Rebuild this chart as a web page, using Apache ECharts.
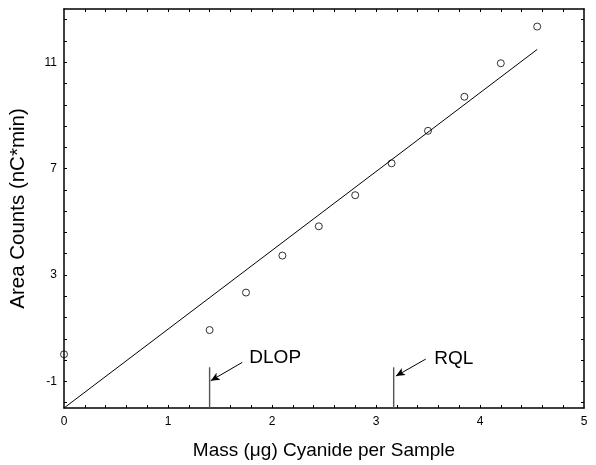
<!DOCTYPE html>
<html>
<head>
<meta charset="utf-8">
<script src="https://cdn.jsdelivr.net/npm/echarts@6/dist/echarts.min.js"></script>
<style>
html,body{margin:0;padding:0;background:#fff;}
#chart{width:596px;height:465px;}
</style>
</head>
<body>
<div id="chart"></div>
<script>
// ---- data ----
var massX = [0, 1.4, 1.75, 2.1, 2.45, 2.8, 3.15, 3.5, 3.85, 4.2, 4.55];
var areaY = [0.02, 0.93, 2.34, 3.73, 4.83, 6.0, 7.2, 8.42, 9.7, 10.96, 12.34];
var fitX = [0, 4.55];
var fitY = [-2, 11.48];
var xTickLabels = [0, 1, 2, 3, 4, 5];
var yTickLabels = [-1, 3, 7, 11];
var markerNames = ['DLOP', 'RQL'];
var markerX = [1.4, 3.17];
var markerTop = -0.47;

var FONT = "'Liberation Sans', Arial, sans-serif";
var xMin = 0, xMax = 5, yMin = -2, yMax = 13;

// minor tick positions (5 subdivisions between labelled ticks)
var xTicks = [];
for (var i = 1; i < 25; i++) xTicks.push(+(xMin + i * 0.2).toFixed(3));
var yTicks = [];
for (var v = yTickLabels[0] - 0.8; v <= yMax + 1e-9; v += 0.8) {
  if (v > yMin + 1e-9 && v < yMax - 1e-9) yTicks.push(+v.toFixed(3));
}

var pts = massX.map(function (x, i) { return [x, areaY[i]]; });
var fit = fitX.map(function (x, i) { return [x, fitY[i]]; });

function axisBase(extra) {
  var o = {
    type: 'value',
    axisLine: { show: true, onZero: false, lineStyle: { color: '#000', width: 1.5 } },
    axisTick: { show: true, inside: true, length: 3, lineStyle: { color: '#000', width: 1 } },
    splitLine: { show: false },
    axisLabel: { show: false }
  };
  for (var k in extra) o[k] = extra[k];
  return o;
}

var chart = echarts.init(document.getElementById('chart'), null, { renderer: 'canvas' });

var annLabelPos = [[1.782, -0.13], [3.56, -0.15]];
var arrows = [
  [[1.714, -0.285], [1.411, -0.975]],
  [[3.478, -0.161], [3.192, -0.799]]
];

var option = {
  animation: false,
  backgroundColor: '#fff',
  grid: { left: 64, top: 9, right: 12, bottom: 57, containLabel: false, outerBoundsMode: 'none' },
  xAxis: [
    axisBase({
      position: 'bottom', min: xMin, max: xMax,
      axisTick: { show: true, inside: true, length: 3, customValues: xTicks, lineStyle: { color: '#000', width: 1 } },
      axisLabel: { show: true, customValues: xTickLabels, margin: 8, color: '#000', fontSize: 12, fontFamily: FONT },
      name: 'Mass (\u03BCg) Cyanide per Sample', nameLocation: 'middle', nameGap: 33,
      nameTextStyle: { color: '#000', fontSize: 19, fontFamily: FONT }
    }),
    axisBase({
      position: 'top', min: xMin, max: xMax,
      axisTick: { show: true, inside: true, length: 3, customValues: xTicks, lineStyle: { color: '#000', width: 1 } }
    })
  ],
  yAxis: [
    axisBase({
      position: 'left', min: yMin, max: yMax,
      axisTick: { show: true, inside: true, length: 3, customValues: yTicks, lineStyle: { color: '#000', width: 1 } },
      axisLabel: { show: true, customValues: yTickLabels, margin: 7, color: '#000', fontSize: 12, fontFamily: FONT },
      name: 'Area Counts (nC*min)', nameLocation: 'middle', nameGap: 35,
      nameTextStyle: { color: '#000', fontSize: 20.5, fontFamily: FONT }
    }),
    axisBase({
      position: 'right', min: yMin, max: yMax,
      axisTick: { show: true, inside: true, length: 3, customValues: yTicks, lineStyle: { color: '#000', width: 1 } }
    })
  ],
  series: [
    {
      type: 'line', data: fit, symbol: 'none', silent: true,
      lineStyle: { color: '#000', width: 1 }, z: 2
    },
    {
      type: 'scatter', data: pts, symbol: 'circle', symbolSize: 7,
      itemStyle: { color: 'rgba(255,255,255,0)', borderColor: '#000', borderWidth: 1 }, z: 3
    }
  ].concat(markerNames.map(function (name, i) {
    return {
      type: 'line', symbol: 'none', silent: true,
      data: [[markerX[i], yMin], [markerX[i], markerTop]],
      lineStyle: { color: '#555', width: 1.4 }, z: 2,
      markLine: {
        silent: true, symbol: ['none', 'arrow'], symbolSize: [6, 9],
        lineStyle: { color: '#000', width: 1, type: 'solid' },
        label: { show: false },
        data: [[{ coord: arrows[i][0] }, { coord: arrows[i][1] }]]
      }
    };
  })).concat([{
    type: 'scatter', symbolSize: 0, silent: true,
    data: annLabelPos.map(function (p, i) { return { value: p, name: markerNames[i] }; }),
    label: {
      show: true, position: 'right', distance: 0, formatter: '{b}',
      color: '#000', fontSize: 19, fontFamily: FONT
    },
    itemStyle: { opacity: 1 }
  }])
};
chart.setOption(option);
</script>
</body>
</html>
